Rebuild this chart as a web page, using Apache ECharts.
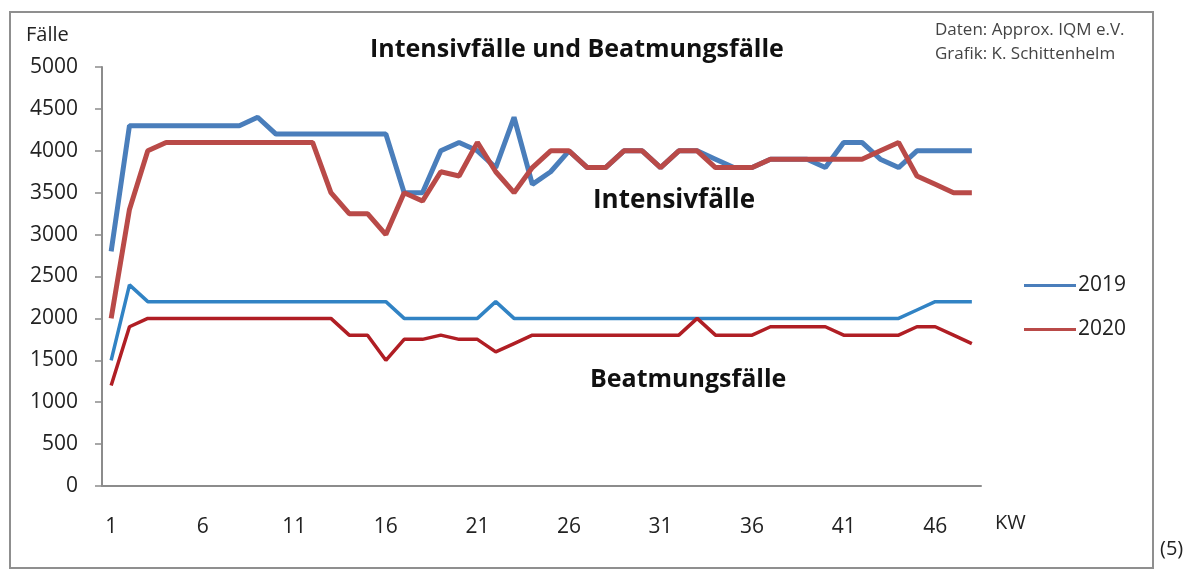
<!DOCTYPE html>
<html>
<head>
<meta charset="utf-8">
<script src="https://cdn.jsdelivr.net/npm/echarts@6/dist/echarts.min.js"></script>
<style>html,body{margin:0;padding:0;background:#fff;}#c{width:1196px;height:577px;}</style>
</head>
<body>
<div id="c"></div>
<script>
const weeks = Array.from({length: 48}, (_, i) => String(i + 1));
const intensiv2019 = [2800,4300,4300,4300,4300,4300,4300,4300,4400,4200,4200,4200,4200,4200,4200,4200,
  3500,3500,4000,4100,4000,3800,4400,3600,3750,4000,3800,3800,4000,4000,3800,4000,
  4000,3900,3800,3800,3900,3900,3900,3800,4100,4100,3900,3800,4000,4000,4000,4000];
const intensiv2020 = [2000,3300,4000,4100,4100,4100,4100,4100,4100,4100,4100,4100,3500,3250,3250,3000,
  3500,3400,3750,3700,4100,3750,3500,3800,4000,4000,3800,3800,4000,4000,3800,4000,
  4000,3800,3800,3800,3900,3900,3900,3900,3900,3900,4000,4100,3700,3600,3500,3500];
const beatmung2019 = [1500,2400,2200,2200,2200,2200,2200,2200,2200,2200,2200,2200,2200,2200,2200,2200,
  2000,2000,2000,2000,2000,2200,2000,2000,2000,2000,2000,2000,2000,2000,2000,2000,
  2000,2000,2000,2000,2000,2000,2000,2000,2000,2000,2000,2000,2100,2200,2200,2200];
const beatmung2020 = [1200,1900,2000,2000,2000,2000,2000,2000,2000,2000,2000,2000,2000,1800,1800,1500,
  1750,1750,1800,1750,1750,1600,1700,1800,1800,1800,1800,1800,1800,1800,1800,1800,
  2000,1800,1800,1800,1900,1900,1900,1900,1800,1800,1800,1800,1900,1900,1800,1700];

const FONT = 'Open Sans';
const chart = echarts.init(document.getElementById('c'), null, {renderer: 'canvas'});
chart.setOption({
  animation: false,
  backgroundColor: '#fff',
  textStyle: {fontFamily: FONT},
  grid: {left: 102, right: 215, top: 67, bottom: 91},
  legend: {
    data: ['2019', '2020'],
    orient: 'vertical',
    left: 1019, top: 270,
    itemWidth: 52, itemHeight: 14, itemGap: 23,
    textStyle: {fontFamily: FONT, fontSize: 21, color: '#222', padding: [0, 0, 0, -3]},
    icon: 'path://M0,5.5L52,5.5L52,8.5L0,8.5Z'
  },
  xAxis: {
    type: 'category',
    data: weeks,
    boundaryGap: true,
    axisLine: {lineStyle: {color: '#8c8c8c', width: 2}},
    axisTick: {interval: 0, length: 6, lineStyle: {color: '#8c8c8c', width: 1.5}},
    axisLabel: {interval: 4, color: '#222', fontSize: 21, fontFamily: FONT, margin: 31},
    splitLine: {show: false}
  },
  yAxis: {
    type: 'value',
    min: 0, max: 5000, interval: 500,
    axisLine: {show: true, lineStyle: {color: '#8c8c8c', width: 2}},
    axisTick: {show: true, length: 7, lineStyle: {color: '#8c8c8c', width: 1.5}},
    axisLabel: {color: '#222', fontSize: 21, fontFamily: FONT, margin: 24, formatter: v => String(v)},
    splitLine: {show: false}
  },
  graphic: [
    {type: 'rect', shape: {x: 10, y: 12, width: 1143, height: 556}, style: {fill: 'none', stroke: '#8f8f8f', lineWidth: 2}, z: -1},
    {type: 'text', left: 370, top: 37, style: {text: 'Intensivfälle und Beatmungsfälle', font: 'bold 25px "Open Sans"', fill: '#111'}},
    {type: 'text', left: 26, top: 25, style: {text: 'Fälle', font: '20px "Open Sans"', fill: '#222'}},
    {type: 'text', left: 995, top: 513, style: {text: 'KW', font: '20px "Open Sans"', fill: '#222'}},
    {type: 'text', left: 935, top: 22, style: {text: 'Daten: Approx. IQM e.V.', font: '17px "Open Sans"', fill: '#444'}},
    {type: 'text', left: 935, top: 46, style: {text: 'Grafik: K. Schittenhelm', font: '17px "Open Sans"', fill: '#444'}},
    {type: 'text', left: 593, top: 188, style: {text: 'Intensivfälle', font: 'bold 26px "Open Sans"', fill: '#111'}},
    {type: 'text', left: 590, top: 367, style: {text: 'Beatmungsfälle', font: 'bold 25px "Open Sans"', fill: '#111'}},
    {type: 'text', left: 1160, top: 539, style: {text: '(5)', font: '20px "Open Sans"', fill: '#222'}}
  ],
  series: [
    {name: '2019', type: 'line', data: intensiv2019, symbol: 'none', color: '#4a7ebb', lineStyle: {width: 5, color: '#4a7ebb'}, z: 3},
    {name: '2020', type: 'line', data: intensiv2020, symbol: 'none', color: '#b94a48', lineStyle: {width: 5, color: '#b94a48'}, z: 4},
    {name: '2019 Beatmung', type: 'line', data: beatmung2019, symbol: 'none', color: '#3183c4', lineStyle: {width: 3.5, color: '#3183c4'}, z: 3},
    {name: '2020 Beatmung', type: 'line', data: beatmung2020, symbol: 'none', color: '#b01e24', lineStyle: {width: 3.5, color: '#b01e24'}, z: 4}
  ]
});
</script>
</body>
</html>
